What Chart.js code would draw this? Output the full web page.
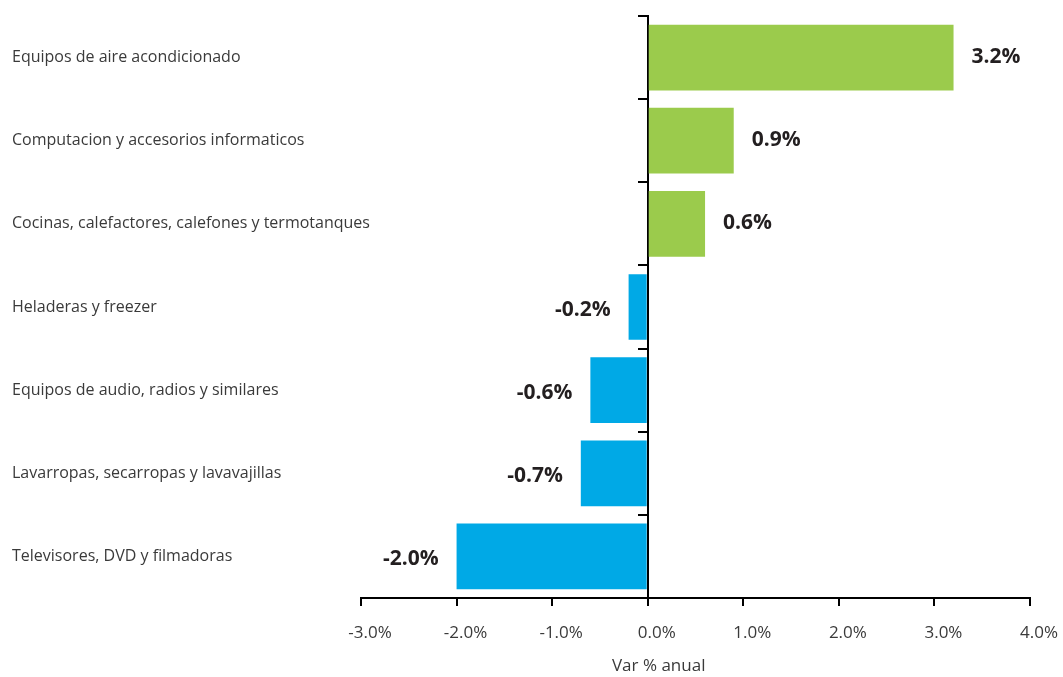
<!DOCTYPE html>
<html>
<head>
<meta charset="utf-8">
<script src="https://cdn.jsdelivr.net/npm/chart.js@4/dist/chart.umd.min.js"></script>
<style>
  html, body { margin: 0; padding: 0; background: #fff; }
  #wrap { width: 1063px; height: 677px; }
</style>
</head>
<body>
<div id="wrap"><canvas id="chart_var"></canvas></div>
<script>
var categories = [
  "Equipos de aire acondicionado",
  "Computacion y accesorios informaticos",
  "Cocinas, calefactores, calefones y termotanques",
  "Heladeras y freezer",
  "Equipos de audio, radios y similares",
  "Lavarropas, secarropas y lavavajillas",
  "Televisores, DVD y filmadoras"
];
var var_anual = [3.2, 0.9, 0.6, -0.2, -0.6, -0.7, -2.0];
var x_ticks = [-3, -2, -1, 0, 1, 2, 3, 4];
var x_title = "Var % anual";

var green = "#9bcb4c";
var blue = "#00a9e6";
var txt = "#3a3a3a";

// value labels next to the end of each bar, plus the axis title under 0%
var valueLabels = {
  id: "valueLabels",
  afterLayout: function (chart) {
    // let long category names run a bit past the plot's left edge
    chart.scales.y.right = chart.chartArea.left + 40;
  },
  afterDatasetsDraw: function (chart) {
    var ctx = chart.ctx;
    var meta = chart.getDatasetMeta(0);
    ctx.save();
    ctx.font = "bold 21px 'Open Sans'";
    ctx.fillStyle = "#231f20";
    ctx.textBaseline = "middle";
    meta.data.forEach(function (bar, i) {
      var v = var_anual[i];
      var s = v.toFixed(1) + "%";
      if (v >= 0) {
        ctx.textAlign = "left";
        ctx.fillText(s, bar.x + 18, bar.y - 1);
      } else {
        ctx.textAlign = "right";
        ctx.fillText(s, bar.x - 18, bar.y + 3);
      }
    });

    ctx.font = "17px 'Open Sans'";
    ctx.fillStyle = txt;
    ctx.textAlign = "center";
    ctx.fillText(x_title, chart.scales.x.getPixelForValue(0) + 11, 666);
    ctx.restore();
  }
};

var ctx = document.getElementById("chart_var").getContext("2d");
var myChart = new Chart(ctx, {
  type: "bar",
  data: {
    labels: categories,
    datasets: [
      {
        data: var_anual,
        backgroundColor: var_anual.map(function (v) { return v >= 0 ? green : blue; }),
        borderWidth: 0,
        categoryPercentage: 0.79,
        barPercentage: 1.0,
      },
    ],
  },
  options: {
    indexAxis: "y",
    responsive: true,
    maintainAspectRatio: false,
    animation: false,
    layout: { padding: { left: 12, right: 33, top: 16, bottom: 0 } },
    plugins: {
      legend: { display: false },
      tooltip: { enabled: false },
    },
    scales: {
      x: {
        type: "linear",
        position: "bottom",
        min: -3,
        max: 4,
        afterBuildTicks: function (scale) {
          scale.ticks = x_ticks.map(function (v) { return { value: v }; });
        },
        afterFit: function (scale) {
          scale.height = 79;
          scale.paddingLeft = 0;
          scale.paddingRight = 0;
        },
        border: { display: true, color: "#000", width: 2 },
        grid: { drawOnChartArea: false, drawTicks: true, tickLength: 8, color: "#000", lineWidth: 2 },
        ticks: {
          padding: 17,
          labelOffset: 9,
          color: txt,
          font: { family: "'Open Sans'", size: 17 },
          callback: function (v) { return v.toFixed(1) + "%"; },
        },
      },
      y: {
        type: "category",
        position: "left",
        afterFit: function (scale) { scale.width = 349; },
        border: { display: false },
        grid: { display: false },
        ticks: {
          crossAlign: "far",
          color: txt,
          font: { family: "'Open Sans'", size: 16 },
        },
      },
      y2: {
        type: "category",
        labels: categories,
        position: { x: 0 },
        border: { display: true, color: "#000", width: 2 },
        grid: { offset: true, drawOnChartArea: false, drawTicks: true, tickLength: 9, color: "#000", lineWidth: 2 },
        ticks: { display: false },
      },
    },
  },
  plugins: [valueLabels],
});
</script>
</body>
</html>
